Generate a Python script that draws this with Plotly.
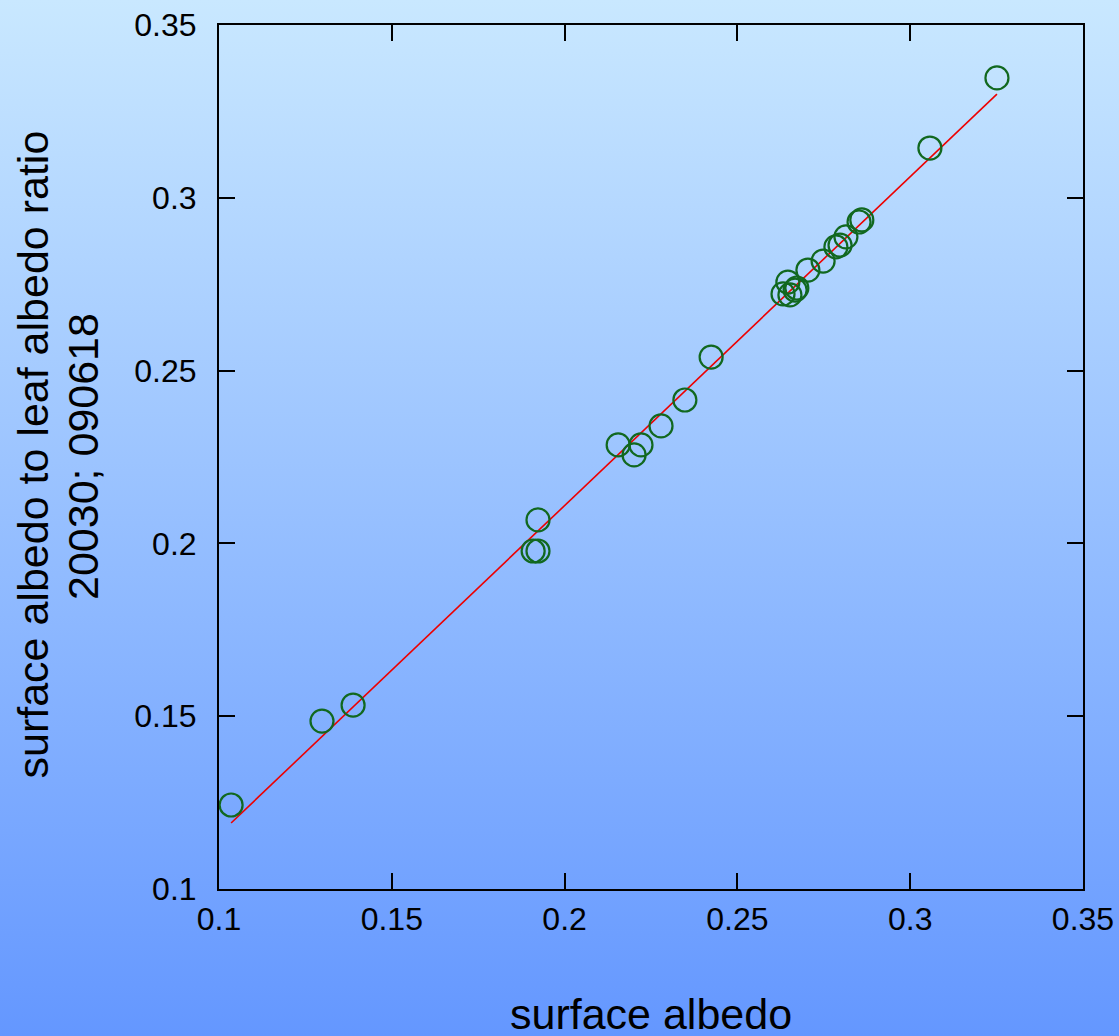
import base64
import plotly.graph_objects as go

# ---- data ----
surface_albedo = [0.1035, 0.1298, 0.1388, 0.1909, 0.1923, 0.1923, 0.2155, 0.2201,
                  0.2221, 0.2279, 0.2348, 0.2424, 0.2632, 0.2646, 0.2652, 0.2667,
                  0.2672, 0.2704, 0.2748, 0.2785, 0.2797, 0.2814, 0.2852, 0.2860,
                  0.3057, 0.3251]
albedo_ratio = [0.1243, 0.1486, 0.1532, 0.1978, 0.1978, 0.2068, 0.2285, 0.2256,
                0.2285, 0.2340, 0.2415, 0.2539, 0.2722, 0.2756, 0.2719, 0.2733,
                0.2739, 0.2791, 0.2817, 0.2858, 0.2863, 0.2887, 0.2930, 0.2936,
                0.3144, 0.3347]
fit_x = [0.1035, 0.3251]
fit_y = [0.1191, 0.3300]
tick_vals = [0.1, 0.15, 0.2, 0.25, 0.3, 0.35]
tick_text = ["0.1", "0.15", "0.2", "0.25", "0.3", "0.35"]

W, H = 1119, 1036
L, R, T, B = 219, 36, 25, 147
PW, PH = W - L - R, H - T - B

FONT = "Liberation Sans, Arial, sans-serif"

svg = f'''<svg xmlns="http://www.w3.org/2000/svg" width="{W}" height="{H}" preserveAspectRatio="none">
<defs><linearGradient id="g" x1="0" y1="0" x2="0" y2="1">
<stop offset="0" stop-color="#c9e8ff"/><stop offset="1" stop-color="#6497ff"/>
</linearGradient></defs><rect x="0" y="0" width="{W}" height="{H}" fill="url(#g)"/></svg>'''
src = "data:image/svg+xml;base64," + base64.b64encode(svg.encode()).decode()

fig = go.Figure()
fig.add_trace(go.Scatter(x=fit_x, y=fit_y, mode="lines",
                         line=dict(color="#ee0000", width=1.6), showlegend=False))
fig.add_trace(go.Scatter(x=surface_albedo, y=albedo_ratio, mode="markers",
                         marker=dict(symbol="circle-open", size=23,
                                     line=dict(color="#11681f", width=2.2),
                                     color="#11681f"),
                         showlegend=False))

axis_common = dict(range=[0.1, 0.35], tickvals=tick_vals, ticktext=tick_text,
                   showgrid=False, zeroline=False, showline=True, linecolor="black",
                   linewidth=2, mirror="ticks", ticks="inside", ticklen=16,
                   tickwidth=2, tickcolor="black", automargin=False,
                   tickfont=dict(family=FONT, size=32, color="black"))

fig.update_xaxes(**axis_common, ticklabelstandoff=1)
fig.update_yaxes(**axis_common, ticklabelstandoff=14)

fig.update_layout(
    width=W, height=H,
    margin=dict(l=L, r=R, t=T, b=B, autoexpand=False),
    paper_bgcolor="#6699ff", plot_bgcolor="rgba(0,0,0,0)",
    images=[dict(source=src, xref="paper", yref="paper",
                 x=-L / PW, y=1 + T / PH, sizex=W / PW, sizey=H / PH,
                 xanchor="left", yanchor="top", sizing="stretch", layer="below")],
    annotations=[
        dict(text="surface albedo", xref="paper", yref="paper",
             x=0.5, y=(889 - 1013.5) / PH, xanchor="center", yanchor="middle",
             showarrow=False, font=dict(family=FONT, size=43, color="black")),
        dict(text="surface albedo to leaf albedo ratio", xref="paper", yref="paper",
             x=(32.5 - L) / PW, y=0.5 + (457 - 455) / PH, xanchor="center", yanchor="middle",
             textangle=-90, showarrow=False,
             font=dict(family=FONT, size=43, color="black")),
        dict(text="20030; 090618", xref="paper", yref="paper",
             x=(83 - L) / PW, y=0.5, xanchor="center", yanchor="middle",
             textangle=-90, showarrow=False,
             font=dict(family=FONT, size=43, color="black")),
    ],
)

fig.write_html("out.html", config={"displayModeBar": False},
               post_script="document.body.style.margin='0';document.body.style.padding='0';"
                           "document.body.style.overflow='hidden';")
